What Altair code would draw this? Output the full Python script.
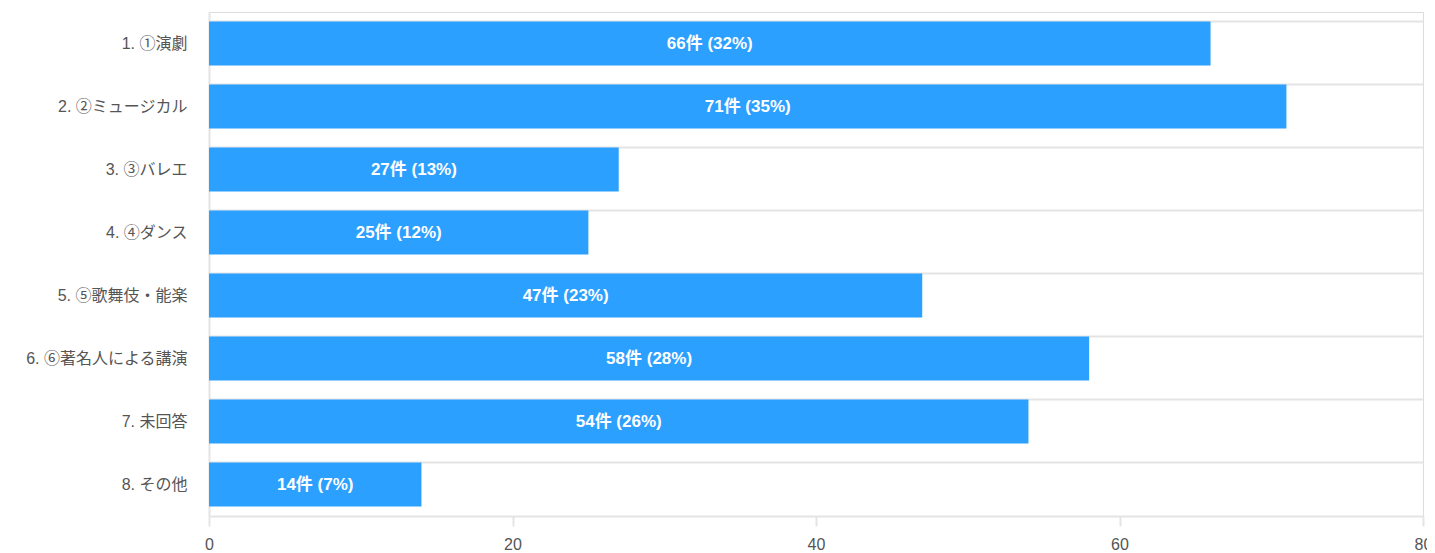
import altair as alt
import pandas as pd

categories = ["1. ①演劇", "2. ②ミュージカル", "3. ③バレエ", "4. ④ダンス",
              "5. ⑤歌舞伎・能楽", "6. ⑥著名人による講演", "7. 未回答", "8. その他"]
counts = [66, 71, 27, 25, 47, 58, 54, 14]
percents = [32, 35, 13, 12, 23, 28, 26, 7]

df = pd.DataFrame({"cat": categories, "count": counts, "pct": percents})
df["label"] = [f"{c}件 ({p}%)" for c, p in zip(counts, percents)]
df["mid"] = df["count"] / 2

FONT = "Liberation Sans, Noto Sans CJK JP, sans-serif"
GRID = "#e4e4e4"

y = alt.Y("cat:N", sort=categories, title=None,
          scale=alt.Scale(paddingInner=0.3, paddingOuter=0.15),
          axis=alt.Axis(labelFont=FONT, labelFontSize=16, labelColor="#555555",
                        labelPadding=22, ticks=False, domain=True,
                        domainColor=GRID, domainWidth=2,
                        grid=True, gridColor=GRID, gridWidth=2, bandPosition=0))

bars = alt.Chart(df).mark_bar(color="#2ca0ff").encode(
    x=alt.X("count:Q", title=None,
            scale=alt.Scale(domain=[0, 80]),
            axis=alt.Axis(values=[0, 20, 40, 60, 80], labelFont=FONT, labelFontSize=16,
                          labelColor="#555555", grid=False, domainColor=GRID,
                          domainWidth=2, tickColor=GRID, tickWidth=2, tickSize=10,
                          labelPadding=10, labelFlush=False)),
    y=y,
)

text = alt.Chart(df).mark_text(color="white", font=FONT, fontSize=17,
                               fontWeight="bold").encode(
    x=alt.X("mid:Q"),
    y=alt.Y("cat:N", sort=categories),
    text="label:N",
)

chart = (bars + text).properties(
    width=1214, height=504,
    autosize=alt.AutoSizeParams(type="none"),
    padding={"left": 201, "top": 4, "right": 4, "bottom": 40},
).configure_view(stroke=None).configure(background="white")

chart.save("out.html", embed_options={"renderer": "svg", "actions": False})
